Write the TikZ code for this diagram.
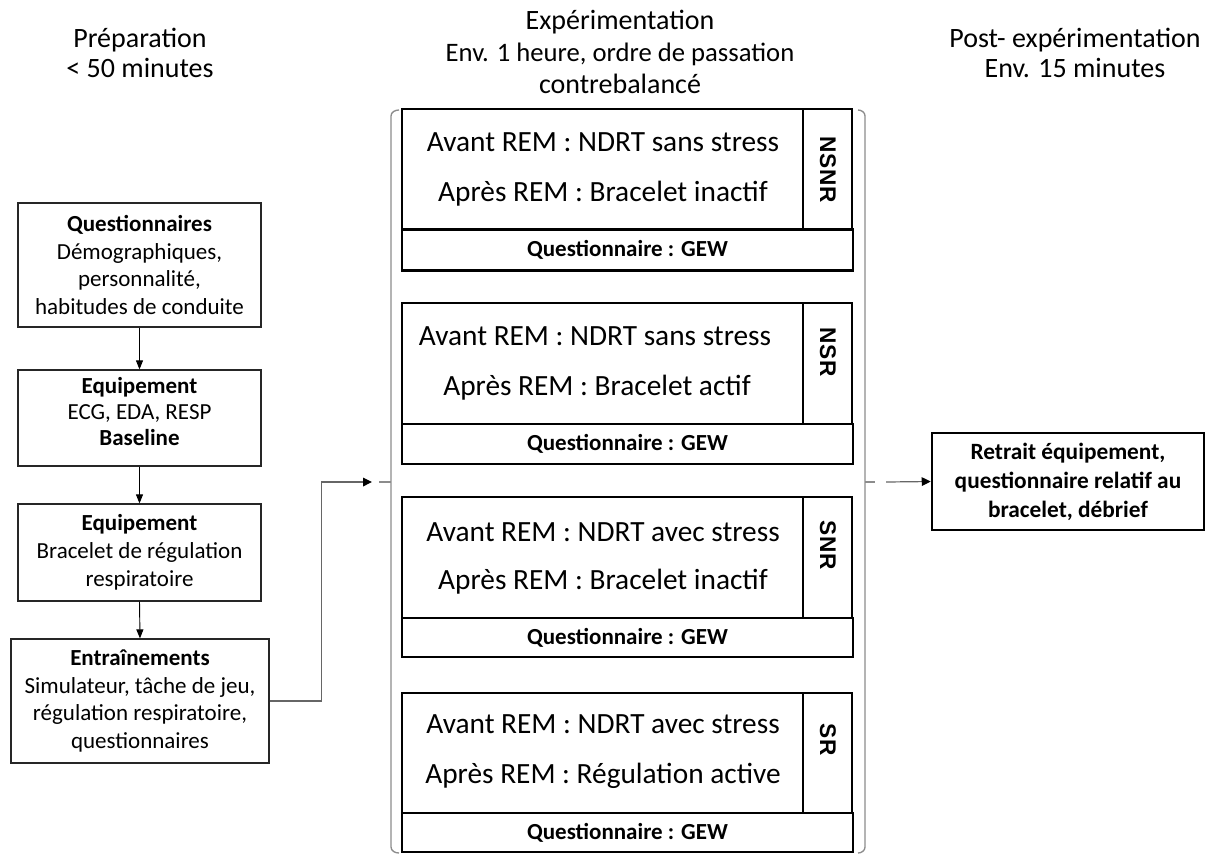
\documentclass[tikz,border=0pt]{standalone}
\usepackage{fontspec}
\setmainfont{Carlito}
\newfontfamily\labfont{Liberation Sans}[LetterSpace=3]
\usetikzlibrary{arrows.meta}
\begin{document}
\begin{tikzpicture}[x=0.75pt,y=-0.75pt,
  title/.style={align=center,inner sep=0pt,font=\fontsize{21}{22.5}\selectfont},
  prepbox/.style={draw=black!85,line width=0.9pt,align=center,inner sep=0pt,
    font=\fontsize{17.25}{20.8}\selectfont},
  preptxt/.style={align=center,inner sep=0pt,font=\fontsize{17.25}{19.5}\selectfont},
  mainbox/.style={draw=black,line width=1.4pt,inner sep=0pt,minimum width=450*0.75pt},
  labbox/.style={draw=black,line width=1pt,inner sep=0pt,minimum width=49*0.75pt},
  qbox/.style={draw=black,line width=1.9pt,inner sep=0pt,minimum width=451*0.75pt,
    font=\bfseries\fontsize{17.25}{20}\selectfont},
  remtxt/.style={inner sep=0pt,font=\fontsize{22}{26}\selectfont},
  vlab/.style={rotate=-90,inner sep=0pt,font=\labfont\bfseries\fontsize{17}{19}\selectfont},
  postbox/.style={draw=black,line width=1.9pt,align=center,inner sep=0pt,
    font=\bfseries\fontsize{17.5}{21.75}\selectfont},
  brace/.style={draw=black!45,line width=1pt},
  shortflow/.style={draw=black,line width=0.7pt,-{Triangle[length=6.75pt,width=5.25pt]}},
  longflow/.style={draw=black!60,line width=0.9pt,-{Triangle[length=6.75pt,width=6.5pt,color=black]}}
]
\useasboundingbox (0,0) rectangle (1211,854);

% titles
\node[title] (t1) at (140,53) {Préparation\\< 50 minutes};
\node[title,font=\fontsize{21}{24}\selectfont] (t2) at (620,52) {Expérimentation\\{\fontsize{20}{24}\selectfont Env. 1 heure, ordre de passation}\\contrebalancé};
\node[title] (t3) at (1075,53) {Post- expérimentation\\Env. 15 minutes};

% preparation column
\node[prepbox,minimum width=243*0.75pt,minimum height=124*0.75pt] (q1) at (139.5,265)
  {\textbf{Questionnaires}\\Démographiques,\\personnalité,\\habitudes de conduite};
\node[prepbox,minimum width=243*0.75pt,minimum height=96*0.75pt] (q2) at (139.5,418) {};
\node[preptxt] (q2t) at (139.5,412) {\textbf{Equipement}\\ECG, EDA, RESP\\\textbf{Baseline}};
\node[prepbox,minimum width=243*0.75pt,minimum height=97*0.75pt] (q3) at (139.5,552.5)
  {\textbf{Equipement}\\Bracelet de régulation\\respiratoire};
\node[prepbox,minimum width=258*0.75pt,minimum height=124*0.75pt] (q4) at (140,701)
  {\textbf{Entraînements}\\Simulateur, tâche de jeu,\\régulation respiratoire,\\questionnaires};

\draw[shortflow] (q1.south) -- (q2.north);
\draw[shortflow] (q2.south) -- (q3.north);
\draw[shortflow] (q3.south) -- (q4.north);

% experimentation blocks
\node[mainbox,minimum height=121*0.75pt] (m1) at (627,169.5) {};
\node[labbox,minimum height=121*0.75pt] (l1) at (827.5,169.5) {};
\node[vlab] (v1) at (828,169.5) {NSNR};
\node[remtxt] (a1) at (603,142) {Avant REM : NDRT sans stress};
\node[remtxt] (b1) at (603,194) {Après REM : Bracelet inactif};
\node[qbox,minimum height=41*0.75pt] (g1) at (627.5,250) {Questionnaire : GEW};

\node[mainbox,minimum height=121*0.75pt] (m2) at (627,363.5) {};
\node[labbox,minimum height=121*0.75pt] (l2) at (827.5,363.5) {};
\node[vlab] (v2) at (828,352) {NSR};
\node[remtxt] (a2) at (595,336) {Avant REM : NDRT sans stress};
\node[remtxt] (b2) at (597,388) {Après REM : Bracelet actif};
\node[qbox,minimum height=40*0.75pt] (g2) at (627.5,444) {Questionnaire : GEW};

\node[mainbox,minimum height=121*0.75pt] (m3) at (627,557.5) {};
\node[labbox,minimum height=121*0.75pt] (l3) at (827.5,557.5) {};
\node[vlab] (v3) at (828,545) {SNR};
\node[remtxt] (a3) at (603,532) {Avant REM : NDRT avec stress};
\node[remtxt] (b3) at (603,582) {Après REM : Bracelet inactif};
\node[qbox,minimum height=39*0.75pt] (g3) at (627.5,637.5) {Questionnaire : GEW};

\node[mainbox,minimum height=120*0.75pt] (m4) at (627,753) {};
\node[labbox,minimum height=120*0.75pt] (l4) at (827.5,753) {};
\node[vlab] (v4) at (828,740) {SR};
\node[remtxt] (a4) at (603,724) {Avant REM : NDRT avec stress};
\node[remtxt] (b4) at (603,776) {Après REM : Régulation active};
\node[qbox,minimum height=39*0.75pt] (g4) at (627.5,832.5) {Questionnaire : GEW};

% braces
\coordinate (lbt) at (379,482);
\coordinate (rbt) at (875,482);
\draw[brace] (399,110) to[out=180,in=90] (391,116) -- (391,847) to[out=-90,in=180] (399,853);
\draw[brace] (391,482) -- (lbt);
\draw[brace] (858,110) to[out=0,in=90] (865,116) -- (865,847) to[out=-90,in=0] (858,853);
\draw[brace] (865,482) -- (rbt);

% post box
\node[postbox,minimum width=272*0.75pt,minimum height=97*0.75pt] (post) at (1068,481.5)
  {Retrait équipement,\\questionnaire relatif au\\bracelet, débrief};

% long connectors
\draw[longflow] (q4.east) -- ++(52,0) |- ([xshift=-5.25pt]lbt);
\draw[longflow] ([xshift=8.25pt]rbt) -- (post.west);
\end{tikzpicture}
\end{document}
